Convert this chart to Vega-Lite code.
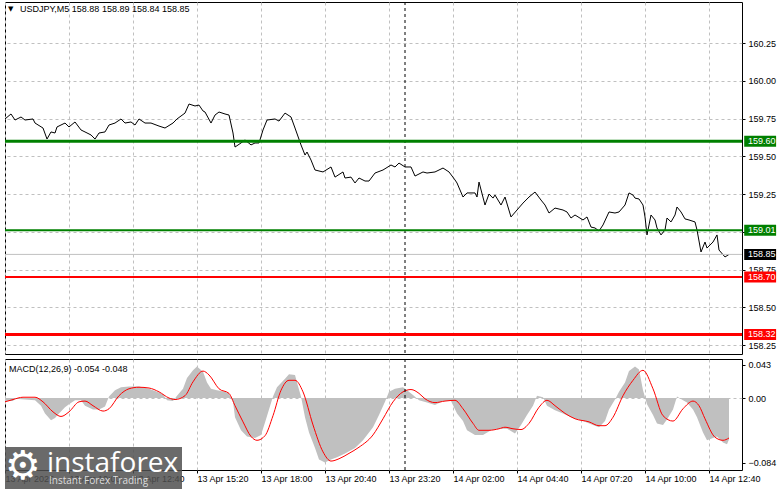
{
  "$schema": "https://vega.github.io/schema/vega-lite/v6.json",
  "padding": {"left": 2, "top": 1, "right": 0, "bottom": 0},
  "background": "#ffffff",
  "spacing": 3,
  "config": {
    "view": {"stroke": "#000000", "strokeWidth": 1},
    "font": "Liberation Sans",
    "axis": {
      "labelFont": "Liberation Sans",
      "labelFontSize": 9,
      "labelColor": "#000000",
      "tickColor": "#000000",
      "gridColor": "#c0c0c0",
      "gridDash": [3, 3],
      "gridWidth": 1,
      "domain": false,
      "title": null,
      "zindex": 0
    }
  },
  "datasets": {
    "price": [
      {"time": "2025-04-13T07:20", "price": 159.747},
      {"time": "2025-04-13T07:35", "price": 159.780},
      {"time": "2025-04-13T07:45", "price": 159.740},
      {"time": "2025-04-13T08:00", "price": 159.760},
      {"time": "2025-04-13T08:10", "price": 159.740},
      {"time": "2025-04-13T08:30", "price": 159.747},
      {"time": "2025-04-13T08:35", "price": 159.720},
      {"time": "2025-04-13T08:55", "price": 159.687},
      {"time": "2025-04-13T09:05", "price": 159.614},
      {"time": "2025-04-13T09:15", "price": 159.661},
      {"time": "2025-04-13T09:25", "price": 159.654},
      {"time": "2025-04-13T09:30", "price": 159.694},
      {"time": "2025-04-13T09:50", "price": 159.720},
      {"time": "2025-04-13T10:00", "price": 159.694},
      {"time": "2025-04-13T10:15", "price": 159.727},
      {"time": "2025-04-13T10:30", "price": 159.674},
      {"time": "2025-04-13T10:40", "price": 159.661},
      {"time": "2025-04-13T10:55", "price": 159.641},
      {"time": "2025-04-13T11:05", "price": 159.614},
      {"time": "2025-04-13T11:15", "price": 159.654},
      {"time": "2025-04-13T11:30", "price": 159.661},
      {"time": "2025-04-13T11:40", "price": 159.707},
      {"time": "2025-04-13T11:55", "price": 159.720},
      {"time": "2025-04-13T12:10", "price": 159.747},
      {"time": "2025-04-13T12:20", "price": 159.720},
      {"time": "2025-04-13T12:35", "price": 159.727},
      {"time": "2025-04-13T12:45", "price": 159.707},
      {"time": "2025-04-13T12:55", "price": 159.747},
      {"time": "2025-04-13T13:10", "price": 159.720},
      {"time": "2025-04-13T13:25", "price": 159.720},
      {"time": "2025-04-13T13:45", "price": 159.700},
      {"time": "2025-04-13T14:00", "price": 159.687},
      {"time": "2025-04-13T14:20", "price": 159.720},
      {"time": "2025-04-13T14:30", "price": 159.747},
      {"time": "2025-04-13T14:50", "price": 159.786},
      {"time": "2025-04-13T15:00", "price": 159.846},
      {"time": "2025-04-13T15:15", "price": 159.833},
      {"time": "2025-04-13T15:25", "price": 159.839},
      {"time": "2025-04-13T15:35", "price": 159.800},
      {"time": "2025-04-13T15:40", "price": 159.793},
      {"time": "2025-04-13T15:55", "price": 159.720},
      {"time": "2025-04-13T16:05", "price": 159.773},
      {"time": "2025-04-13T16:15", "price": 159.793},
      {"time": "2025-04-13T16:30", "price": 159.780},
      {"time": "2025-04-13T16:40", "price": 159.773},
      {"time": "2025-04-13T16:50", "price": 159.654},
      {"time": "2025-04-13T16:55", "price": 159.561},
      {"time": "2025-04-13T17:10", "price": 159.588},
      {"time": "2025-04-13T17:20", "price": 159.608},
      {"time": "2025-04-13T17:35", "price": 159.575},
      {"time": "2025-04-13T17:45", "price": 159.588},
      {"time": "2025-04-13T17:55", "price": 159.588},
      {"time": "2025-04-13T18:05", "price": 159.674},
      {"time": "2025-04-13T18:15", "price": 159.740},
      {"time": "2025-04-13T18:35", "price": 159.747},
      {"time": "2025-04-13T18:45", "price": 159.733},
      {"time": "2025-04-13T19:00", "price": 159.786},
      {"time": "2025-04-13T19:15", "price": 159.760},
      {"time": "2025-04-13T19:25", "price": 159.687},
      {"time": "2025-04-13T19:40", "price": 159.575},
      {"time": "2025-04-13T19:50", "price": 159.508},
      {"time": "2025-04-13T19:55", "price": 159.528},
      {"time": "2025-04-13T20:05", "price": 159.475},
      {"time": "2025-04-13T20:15", "price": 159.409},
      {"time": "2025-04-13T20:35", "price": 159.396},
      {"time": "2025-04-13T20:55", "price": 159.429},
      {"time": "2025-04-13T21:05", "price": 159.362},
      {"time": "2025-04-13T21:25", "price": 159.396},
      {"time": "2025-04-13T21:30", "price": 159.356},
      {"time": "2025-04-13T21:45", "price": 159.362},
      {"time": "2025-04-13T21:55", "price": 159.323},
      {"time": "2025-04-13T22:05", "price": 159.356},
      {"time": "2025-04-13T22:20", "price": 159.336},
      {"time": "2025-04-13T22:30", "price": 159.336},
      {"time": "2025-04-13T22:45", "price": 159.389},
      {"time": "2025-04-13T23:05", "price": 159.409},
      {"time": "2025-04-13T23:25", "price": 159.442},
      {"time": "2025-04-13T23:35", "price": 159.429},
      {"time": "2025-04-13T23:45", "price": 159.455},
      {"time": "2025-04-14T00:00", "price": 159.429},
      {"time": "2025-04-14T00:15", "price": 159.429},
      {"time": "2025-04-14T00:25", "price": 159.369},
      {"time": "2025-04-14T00:45", "price": 159.396},
      {"time": "2025-04-14T00:55", "price": 159.389},
      {"time": "2025-04-14T01:15", "price": 159.396},
      {"time": "2025-04-14T01:35", "price": 159.422},
      {"time": "2025-04-14T01:50", "price": 159.396},
      {"time": "2025-04-14T02:05", "price": 159.343},
      {"time": "2025-04-14T02:10", "price": 159.323},
      {"time": "2025-04-14T02:25", "price": 159.230},
      {"time": "2025-04-14T02:35", "price": 159.257},
      {"time": "2025-04-14T02:55", "price": 159.257},
      {"time": "2025-04-14T03:00", "price": 159.230},
      {"time": "2025-04-14T03:05", "price": 159.329},
      {"time": "2025-04-14T03:20", "price": 159.177},
      {"time": "2025-04-14T03:30", "price": 159.250},
      {"time": "2025-04-14T03:40", "price": 159.223},
      {"time": "2025-04-14T03:45", "price": 159.243},
      {"time": "2025-04-14T04:00", "price": 159.177},
      {"time": "2025-04-14T04:10", "price": 159.230},
      {"time": "2025-04-14T04:25", "price": 159.098},
      {"time": "2025-04-14T04:40", "price": 159.144},
      {"time": "2025-04-14T04:55", "price": 159.190},
      {"time": "2025-04-14T05:10", "price": 159.230},
      {"time": "2025-04-14T05:25", "price": 159.263},
      {"time": "2025-04-14T05:40", "price": 159.210},
      {"time": "2025-04-14T05:50", "price": 159.177},
      {"time": "2025-04-14T06:00", "price": 159.124},
      {"time": "2025-04-14T06:15", "price": 159.157},
      {"time": "2025-04-14T06:35", "price": 159.144},
      {"time": "2025-04-14T06:45", "price": 159.131},
      {"time": "2025-04-14T06:55", "price": 159.091},
      {"time": "2025-04-14T07:05", "price": 159.111},
      {"time": "2025-04-14T07:25", "price": 159.078},
      {"time": "2025-04-14T07:35", "price": 159.098},
      {"time": "2025-04-14T07:45", "price": 159.031},
      {"time": "2025-04-14T07:55", "price": 159.025},
      {"time": "2025-04-14T08:05", "price": 159.005},
      {"time": "2025-04-14T08:15", "price": 159.045},
      {"time": "2025-04-14T08:30", "price": 159.131},
      {"time": "2025-04-14T08:45", "price": 159.124},
      {"time": "2025-04-14T08:55", "price": 159.131},
      {"time": "2025-04-14T09:10", "price": 159.177},
      {"time": "2025-04-14T09:20", "price": 159.257},
      {"time": "2025-04-14T09:30", "price": 159.243},
      {"time": "2025-04-14T09:35", "price": 159.223},
      {"time": "2025-04-14T09:45", "price": 159.217},
      {"time": "2025-04-14T09:55", "price": 159.177},
      {"time": "2025-04-14T10:00", "price": 159.098},
      {"time": "2025-04-14T10:05", "price": 158.979},
      {"time": "2025-04-14T10:15", "price": 159.111},
      {"time": "2025-04-14T10:25", "price": 159.078},
      {"time": "2025-04-14T10:30", "price": 159.025},
      {"time": "2025-04-14T10:40", "price": 158.979},
      {"time": "2025-04-14T10:50", "price": 159.012},
      {"time": "2025-04-14T10:55", "price": 159.091},
      {"time": "2025-04-14T11:05", "price": 159.065},
      {"time": "2025-04-14T11:15", "price": 159.111},
      {"time": "2025-04-14T11:20", "price": 159.164},
      {"time": "2025-04-14T11:30", "price": 159.131},
      {"time": "2025-04-14T11:40", "price": 159.085},
      {"time": "2025-04-14T11:50", "price": 159.078},
      {"time": "2025-04-14T12:05", "price": 159.065},
      {"time": "2025-04-14T12:10", "price": 159.012},
      {"time": "2025-04-14T12:20", "price": 158.866},
      {"time": "2025-04-14T12:30", "price": 158.932},
      {"time": "2025-04-14T12:35", "price": 158.892},
      {"time": "2025-04-14T12:50", "price": 158.932},
      {"time": "2025-04-14T13:00", "price": 158.979},
      {"time": "2025-04-14T13:05", "price": 158.879},
      {"time": "2025-04-14T13:20", "price": 158.833},
      {"time": "2025-04-14T13:30", "price": 158.850}
    ],
    "hist": [
      {"time": "2025-04-13T07:20", "macd": -0.004},
      {"time": "2025-04-13T07:40", "macd": -0.004},
      {"time": "2025-04-13T07:45", "macd": -0.001},
      {"time": "2025-04-13T08:10", "macd": -0.002},
      {"time": "2025-04-13T08:35", "macd": -0.003},
      {"time": "2025-04-13T08:50", "macd": -0.010},
      {"time": "2025-04-13T09:00", "macd": -0.020},
      {"time": "2025-04-13T09:15", "macd": -0.029},
      {"time": "2025-04-13T09:25", "macd": -0.026},
      {"time": "2025-04-13T09:35", "macd": -0.020},
      {"time": "2025-04-13T09:50", "macd": -0.012},
      {"time": "2025-04-13T10:00", "macd": -0.008},
      {"time": "2025-04-13T10:15", "macd": -0.003},
      {"time": "2025-04-13T10:30", "macd": -0.003},
      {"time": "2025-04-13T10:40", "macd": -0.010},
      {"time": "2025-04-13T11:00", "macd": -0.015},
      {"time": "2025-04-13T11:15", "macd": -0.015},
      {"time": "2025-04-13T11:30", "macd": -0.011},
      {"time": "2025-04-13T11:40", "macd": 0.002},
      {"time": "2025-04-13T11:55", "macd": 0.010},
      {"time": "2025-04-13T12:10", "macd": 0.014},
      {"time": "2025-04-13T12:30", "macd": 0.015},
      {"time": "2025-04-13T12:55", "macd": 0.015},
      {"time": "2025-04-13T13:20", "macd": 0.012},
      {"time": "2025-04-13T13:40", "macd": 0.008},
      {"time": "2025-04-13T13:55", "macd": 0.005},
      {"time": "2025-04-13T14:05", "macd": -0.003},
      {"time": "2025-04-13T14:20", "macd": -0.004},
      {"time": "2025-04-13T14:30", "macd": 0.003},
      {"time": "2025-04-13T14:45", "macd": 0.012},
      {"time": "2025-04-13T14:55", "macd": 0.026},
      {"time": "2025-04-13T15:10", "macd": 0.036},
      {"time": "2025-04-13T15:20", "macd": 0.041},
      {"time": "2025-04-13T15:35", "macd": 0.034},
      {"time": "2025-04-13T15:45", "macd": 0.020},
      {"time": "2025-04-13T15:55", "macd": 0.012},
      {"time": "2025-04-13T16:10", "macd": 0.010},
      {"time": "2025-04-13T16:30", "macd": 0.008},
      {"time": "2025-04-13T16:40", "macd": 0.006},
      {"time": "2025-04-13T16:50", "macd": -0.005},
      {"time": "2025-04-13T16:55", "macd": -0.025},
      {"time": "2025-04-13T17:10", "macd": -0.042},
      {"time": "2025-04-13T17:25", "macd": -0.050},
      {"time": "2025-04-13T17:45", "macd": -0.052},
      {"time": "2025-04-13T18:00", "macd": -0.048},
      {"time": "2025-04-13T18:10", "macd": -0.032},
      {"time": "2025-04-13T18:20", "macd": -0.015},
      {"time": "2025-04-13T18:30", "macd": 0.002},
      {"time": "2025-04-13T18:40", "macd": 0.014},
      {"time": "2025-04-13T19:00", "macd": 0.025},
      {"time": "2025-04-13T19:10", "macd": 0.031},
      {"time": "2025-04-13T19:25", "macd": 0.030},
      {"time": "2025-04-13T19:30", "macd": 0.020},
      {"time": "2025-04-13T19:40", "macd": 0.002},
      {"time": "2025-04-13T19:50", "macd": -0.025},
      {"time": "2025-04-13T20:00", "macd": -0.045},
      {"time": "2025-04-13T20:15", "macd": -0.065},
      {"time": "2025-04-13T20:25", "macd": -0.080},
      {"time": "2025-04-13T20:40", "macd": -0.084},
      {"time": "2025-04-13T20:55", "macd": -0.080},
      {"time": "2025-04-13T21:10", "macd": -0.077},
      {"time": "2025-04-13T21:30", "macd": -0.072},
      {"time": "2025-04-13T21:55", "macd": -0.065},
      {"time": "2025-04-13T22:15", "macd": -0.055},
      {"time": "2025-04-13T22:30", "macd": -0.045},
      {"time": "2025-04-13T22:40", "macd": -0.038},
      {"time": "2025-04-13T22:55", "macd": -0.022},
      {"time": "2025-04-13T23:10", "macd": -0.005},
      {"time": "2025-04-13T23:20", "macd": 0.008},
      {"time": "2025-04-13T23:35", "macd": 0.012},
      {"time": "2025-04-13T23:55", "macd": 0.014},
      {"time": "2025-04-14T00:05", "macd": 0.010},
      {"time": "2025-04-14T00:20", "macd": 0.004},
      {"time": "2025-04-14T00:35", "macd": -0.003},
      {"time": "2025-04-14T00:55", "macd": -0.006},
      {"time": "2025-04-14T01:15", "macd": -0.009},
      {"time": "2025-04-14T01:35", "macd": -0.004},
      {"time": "2025-04-14T01:55", "macd": -0.004},
      {"time": "2025-04-14T02:10", "macd": -0.020},
      {"time": "2025-04-14T02:25", "macd": -0.030},
      {"time": "2025-04-14T02:35", "macd": -0.042},
      {"time": "2025-04-14T02:55", "macd": -0.048},
      {"time": "2025-04-14T03:15", "macd": -0.048},
      {"time": "2025-04-14T03:35", "macd": -0.042},
      {"time": "2025-04-14T03:55", "macd": -0.040},
      {"time": "2025-04-14T04:15", "macd": -0.040},
      {"time": "2025-04-14T04:35", "macd": -0.046},
      {"time": "2025-04-14T04:50", "macd": -0.035},
      {"time": "2025-04-14T05:05", "macd": -0.022},
      {"time": "2025-04-14T05:20", "macd": -0.010},
      {"time": "2025-04-14T05:30", "macd": 0.003},
      {"time": "2025-04-14T05:45", "macd": 0.001},
      {"time": "2025-04-14T05:55", "macd": -0.010},
      {"time": "2025-04-14T06:15", "macd": -0.016},
      {"time": "2025-04-14T06:35", "macd": -0.020},
      {"time": "2025-04-14T07:00", "macd": -0.026},
      {"time": "2025-04-14T07:25", "macd": -0.030},
      {"time": "2025-04-14T07:50", "macd": -0.035},
      {"time": "2025-04-14T08:05", "macd": -0.038},
      {"time": "2025-04-14T08:20", "macd": -0.030},
      {"time": "2025-04-14T08:30", "macd": -0.015},
      {"time": "2025-04-14T08:45", "macd": -0.002},
      {"time": "2025-04-14T08:55", "macd": 0.008},
      {"time": "2025-04-14T09:10", "macd": 0.020},
      {"time": "2025-04-14T09:20", "macd": 0.035},
      {"time": "2025-04-14T09:35", "macd": 0.041},
      {"time": "2025-04-14T09:45", "macd": 0.037},
      {"time": "2025-04-14T09:55", "macd": 0.010},
      {"time": "2025-04-14T10:05", "macd": -0.008},
      {"time": "2025-04-14T10:20", "macd": -0.022},
      {"time": "2025-04-14T10:30", "macd": -0.033},
      {"time": "2025-04-14T10:45", "macd": -0.035},
      {"time": "2025-04-14T10:55", "macd": -0.028},
      {"time": "2025-04-14T11:10", "macd": -0.015},
      {"time": "2025-04-14T11:20", "macd": 0.002},
      {"time": "2025-04-14T11:35", "macd": -0.003},
      {"time": "2025-04-14T11:45", "macd": -0.006},
      {"time": "2025-04-14T12:00", "macd": -0.015},
      {"time": "2025-04-14T12:10", "macd": -0.025},
      {"time": "2025-04-14T12:25", "macd": -0.045},
      {"time": "2025-04-14T12:35", "macd": -0.055},
      {"time": "2025-04-14T12:50", "macd": -0.052},
      {"time": "2025-04-14T13:00", "macd": -0.050},
      {"time": "2025-04-14T13:15", "macd": -0.058},
      {"time": "2025-04-14T13:25", "macd": -0.060},
      {"time": "2025-04-14T13:30", "macd": -0.054}
    ],
    "signal": [
      {"time": "2025-04-13T07:20", "signal": -0.005},
      {"time": "2025-04-13T07:40", "signal": -0.002},
      {"time": "2025-04-13T08:05", "signal": 0.001},
      {"time": "2025-04-13T08:35", "signal": 0.001},
      {"time": "2025-04-13T08:55", "signal": -0.005},
      {"time": "2025-04-13T09:20", "signal": -0.018},
      {"time": "2025-04-13T09:40", "signal": -0.024},
      {"time": "2025-04-13T10:00", "signal": -0.018},
      {"time": "2025-04-13T10:25", "signal": -0.005},
      {"time": "2025-04-13T10:40", "signal": -0.004},
      {"time": "2025-04-13T11:00", "signal": -0.010},
      {"time": "2025-04-13T11:25", "signal": -0.017},
      {"time": "2025-04-13T11:40", "signal": -0.014},
      {"time": "2025-04-13T12:05", "signal": 0.003},
      {"time": "2025-04-13T12:30", "signal": 0.012},
      {"time": "2025-04-13T12:55", "signal": 0.014},
      {"time": "2025-04-13T13:20", "signal": 0.013},
      {"time": "2025-04-13T13:45", "signal": 0.008},
      {"time": "2025-04-13T14:10", "signal": 0.000},
      {"time": "2025-04-13T14:25", "signal": -0.002},
      {"time": "2025-04-13T14:50", "signal": 0.003},
      {"time": "2025-04-13T15:10", "signal": 0.021},
      {"time": "2025-04-13T15:35", "signal": 0.035},
      {"time": "2025-04-13T15:50", "signal": 0.030},
      {"time": "2025-04-13T16:15", "signal": 0.012},
      {"time": "2025-04-13T16:40", "signal": 0.006},
      {"time": "2025-04-13T16:55", "signal": -0.010},
      {"time": "2025-04-13T17:15", "signal": -0.031},
      {"time": "2025-04-13T17:35", "signal": -0.050},
      {"time": "2025-04-13T17:50", "signal": -0.055},
      {"time": "2025-04-13T18:10", "signal": -0.049},
      {"time": "2025-04-13T18:30", "signal": -0.023},
      {"time": "2025-04-13T18:50", "signal": 0.010},
      {"time": "2025-04-13T19:10", "signal": 0.023},
      {"time": "2025-04-13T19:25", "signal": 0.023},
      {"time": "2025-04-13T19:45", "signal": 0.008},
      {"time": "2025-04-13T20:10", "signal": -0.035},
      {"time": "2025-04-13T20:35", "signal": -0.070},
      {"time": "2025-04-13T20:55", "signal": -0.082},
      {"time": "2025-04-13T21:15", "signal": -0.079},
      {"time": "2025-04-13T21:40", "signal": -0.072},
      {"time": "2025-04-13T22:05", "signal": -0.064},
      {"time": "2025-04-13T22:40", "signal": -0.048},
      {"time": "2025-04-13T23:05", "signal": -0.027},
      {"time": "2025-04-13T23:30", "signal": -0.005},
      {"time": "2025-04-13T23:55", "signal": 0.008},
      {"time": "2025-04-14T00:15", "signal": 0.011},
      {"time": "2025-04-14T00:35", "signal": 0.006},
      {"time": "2025-04-14T00:50", "signal": -0.001},
      {"time": "2025-04-14T01:15", "signal": -0.006},
      {"time": "2025-04-14T01:40", "signal": -0.004},
      {"time": "2025-04-14T02:05", "signal": -0.003},
      {"time": "2025-04-14T02:25", "signal": -0.014},
      {"time": "2025-04-14T02:50", "signal": -0.033},
      {"time": "2025-04-14T03:05", "signal": -0.042},
      {"time": "2025-04-14T03:30", "signal": -0.042},
      {"time": "2025-04-14T03:55", "signal": -0.040},
      {"time": "2025-04-14T04:10", "signal": -0.038},
      {"time": "2025-04-14T04:30", "signal": -0.040},
      {"time": "2025-04-14T04:50", "signal": -0.041},
      {"time": "2025-04-14T05:10", "signal": -0.033},
      {"time": "2025-04-14T05:35", "signal": -0.012},
      {"time": "2025-04-14T05:55", "signal": -0.003},
      {"time": "2025-04-14T06:15", "signal": -0.010},
      {"time": "2025-04-14T06:40", "signal": -0.020},
      {"time": "2025-04-14T07:05", "signal": -0.027},
      {"time": "2025-04-14T07:40", "signal": -0.031},
      {"time": "2025-04-14T08:05", "signal": -0.036},
      {"time": "2025-04-14T08:20", "signal": -0.036},
      {"time": "2025-04-14T08:40", "signal": -0.025},
      {"time": "2025-04-14T09:05", "signal": 0.003},
      {"time": "2025-04-14T09:30", "signal": 0.023},
      {"time": "2025-04-14T09:55", "signal": 0.036},
      {"time": "2025-04-14T10:20", "signal": 0.012},
      {"time": "2025-04-14T10:45", "signal": -0.023},
      {"time": "2025-04-14T11:10", "signal": -0.030},
      {"time": "2025-04-14T11:35", "signal": -0.014},
      {"time": "2025-04-14T12:00", "signal": -0.004},
      {"time": "2025-04-14T12:15", "signal": -0.010},
      {"time": "2025-04-14T12:30", "signal": -0.027},
      {"time": "2025-04-14T12:55", "signal": -0.051},
      {"time": "2025-04-14T13:15", "signal": -0.055},
      {"time": "2025-04-14T13:30", "signal": -0.052}
    ],
    "levels": [
      {"level": 159.60, "side": "buy", "role": "target"},
      {"level": 159.01, "side": "buy", "role": "entry"},
      {"level": 158.85, "side": "current", "role": "price"},
      {"level": 158.70, "side": "sell", "role": "entry"},
      {"level": 158.32, "side": "sell", "role": "target"}
    ],
    "sessions": [{"time": "2025-04-14T00:00"}],
    "header": [{"arrow": "▼", "label": "USDJPY,M5  158.88 158.89 158.84 158.85"}],
    "indicator": [{"label": "MACD(12,26,9) -0.054 -0.048"}],
    "brand": [{"icon": "⚙", "name": "instaforex", "tagline": "Instant Forex Trading"}]
  },
  "vconcat": [
    {
      "width": 737,
      "height": 352,
      "layer": [
        {
          "data": {"name": "price"},
          "mark": {"type": "line", "color": "#000000", "strokeWidth": 1},
          "encoding": {
            "x": {
              "field": "time", "type": "temporal",
              "scale": {"domain": [{"year": 2025, "month": 4, "date": 13, "hours": 7, "minutes": 20}, {"year": 2025, "month": 4, "date": 14, "hours": 14, "minutes": 2, "seconds": 30}], "nice": false},
              "axis": {
                "grid": true, "labels": false, "ticks": false,
                "values": [
                  {"year": 2025, "month": 4, "date": 13, "hours": 7, "minutes": 20},
                  {"year": 2025, "month": 4, "date": 13, "hours": 8, "minutes": 40},
                  {"year": 2025, "month": 4, "date": 13, "hours": 10, "minutes": 0},
                  {"year": 2025, "month": 4, "date": 13, "hours": 11, "minutes": 20},
                  {"year": 2025, "month": 4, "date": 13, "hours": 12, "minutes": 40},
                  {"year": 2025, "month": 4, "date": 13, "hours": 14, "minutes": 0},
                  {"year": 2025, "month": 4, "date": 13, "hours": 15, "minutes": 20},
                  {"year": 2025, "month": 4, "date": 13, "hours": 16, "minutes": 40},
                  {"year": 2025, "month": 4, "date": 13, "hours": 18, "minutes": 0},
                  {"year": 2025, "month": 4, "date": 13, "hours": 19, "minutes": 20},
                  {"year": 2025, "month": 4, "date": 13, "hours": 20, "minutes": 40},
                  {"year": 2025, "month": 4, "date": 13, "hours": 22, "minutes": 0},
                  {"year": 2025, "month": 4, "date": 13, "hours": 23, "minutes": 20},
                  {"year": 2025, "month": 4, "date": 14, "hours": 0, "minutes": 40},
                  {"year": 2025, "month": 4, "date": 14, "hours": 2, "minutes": 0},
                  {"year": 2025, "month": 4, "date": 14, "hours": 3, "minutes": 20},
                  {"year": 2025, "month": 4, "date": 14, "hours": 4, "minutes": 40},
                  {"year": 2025, "month": 4, "date": 14, "hours": 6, "minutes": 0},
                  {"year": 2025, "month": 4, "date": 14, "hours": 7, "minutes": 20},
                  {"year": 2025, "month": 4, "date": 14, "hours": 8, "minutes": 40},
                  {"year": 2025, "month": 4, "date": 14, "hours": 10, "minutes": 0},
                  {"year": 2025, "month": 4, "date": 14, "hours": 11, "minutes": 20},
                  {"year": 2025, "month": 4, "date": 14, "hours": 12, "minutes": 40}
                ]
              }
            },
            "y": {
              "field": "price", "type": "quantitative",
              "scale": {"domain": [158.1904, 160.5216], "nice": false, "zero": false},
              "axis": {
                "orient": "right", "grid": true, "format": ".2f",
                "values": [158.25, 158.5, 158.75, 159.0, 159.25, 159.5, 159.75, 160.0, 160.25],
                "tickSize": 3, "labelPadding": 3
              }
            }
          }
        },
        {
          "data": {"name": "levels"},
          "transform": [{"filter": "datum.side == 'current'"}],
          "mark": {"type": "rule", "color": "#c0c0c0", "strokeWidth": 1},
          "encoding": {"y": {"field": "level", "type": "quantitative"}}
        },
        {
          "data": {"name": "sessions"},
          "mark": {"type": "rule", "color": "#000000", "strokeWidth": 1, "strokeDash": [3, 3]},
          "encoding": {"x": {"field": "time", "type": "temporal"}}
        },
        {
          "data": {"name": "levels"},
          "transform": [{"filter": "datum.side != 'current'"}],
          "mark": {"type": "rule"},
          "encoding": {
            "y": {"field": "level", "type": "quantitative"},
            "color": {"field": "side", "type": "nominal", "scale": {"domain": ["buy", "sell", "current"], "range": ["#008000", "#ff0000", "#000000"]}, "legend": null},
            "strokeWidth": {"field": "role", "type": "nominal", "scale": {"domain": ["entry", "target"], "range": [2, 3]}, "legend": null}
          }
        },
        {
          "data": {"name": "levels"},
          "mark": {"type": "point", "shape": "M0.4,-1H6.2V1H0.4Z", "filled": true, "opacity": 1, "size": 121, "strokeWidth": 0},
          "encoding": {
            "x": {"datum": {"year": 2025, "month": 4, "date": 14, "hours": 14, "minutes": 2, "seconds": 30}, "type": "temporal"},
            "y": {"field": "level", "type": "quantitative"},
            "color": {"field": "side", "type": "nominal", "scale": {"domain": ["buy", "sell", "current"], "range": ["#008000", "#ff0000", "#000000"]}, "legend": null}
          }
        },
        {
          "data": {"name": "levels"},
          "mark": {"type": "text", "align": "left", "baseline": "middle", "dx": 6, "fill": "#ffffff", "fontSize": 9, "font": "Liberation Sans"},
          "encoding": {
            "x": {"datum": {"year": 2025, "month": 4, "date": 14, "hours": 14, "minutes": 2, "seconds": 30}, "type": "temporal"},
            "y": {"field": "level", "type": "quantitative"},
            "text": {"field": "level", "type": "quantitative", "format": ".2f"}
          }
        },
        {
          "data": {"name": "header"},
          "mark": {"type": "text", "align": "left", "baseline": "middle", "dx": 3, "fill": "#000000", "fontSize": 7, "font": "DejaVu Sans"},
          "encoding": {
            "x": {"datum": {"year": 2025, "month": 4, "date": 13, "hours": 7, "minutes": 20}, "type": "temporal"},
            "y": {"datum": 160.475, "type": "quantitative"},
            "text": {"field": "arrow", "type": "nominal"}
          }
        },
        {
          "data": {"name": "header"},
          "mark": {"type": "text", "align": "left", "baseline": "middle", "dx": 15, "fill": "#000000", "fontSize": 9, "font": "Liberation Sans"},
          "encoding": {
            "x": {"datum": {"year": 2025, "month": 4, "date": 13, "hours": 7, "minutes": 20}, "type": "temporal"},
            "y": {"datum": 160.475, "type": "quantitative"},
            "text": {"field": "label", "type": "nominal"}
          }
        }
      ]
    },
    {
      "width": 737,
      "height": 111,
      "layer": [
        {
          "data": {"name": "hist"},
          "mark": {"type": "area", "color": "#c0c0c0", "interpolate": "linear"},
          "encoding": {
            "x": {
              "field": "time", "type": "temporal",
              "scale": {"domain": [{"year": 2025, "month": 4, "date": 13, "hours": 7, "minutes": 20}, {"year": 2025, "month": 4, "date": 14, "hours": 14, "minutes": 2, "seconds": 30}], "nice": false},
              "axis": {
                "grid": true,
                "tickSize": 3,
                "labelPadding": 1,
                "labelAlign": "left",
                "labelBaseline": "top",
                "labelFlush": false,
                "labelOverlap": false,
                "labelBound": false,
                "tickOpacity": {"condition": {"test": "(hours(datum.value)*60 + minutes(datum.value)) % 160 == 120", "value": 1}, "value": 0},
                "labelExpr": "(hours(datum.value)*60 + minutes(datum.value)) % 160 == 120 ? (datum.index == 0 ? '13 Apr 2025' : timeFormat(datum.value, '%d %b %H:%M')) : ''",
                "values": [
                  {"year": 2025, "month": 4, "date": 13, "hours": 7, "minutes": 20},
                  {"year": 2025, "month": 4, "date": 13, "hours": 8, "minutes": 40},
                  {"year": 2025, "month": 4, "date": 13, "hours": 10, "minutes": 0},
                  {"year": 2025, "month": 4, "date": 13, "hours": 11, "minutes": 20},
                  {"year": 2025, "month": 4, "date": 13, "hours": 12, "minutes": 40},
                  {"year": 2025, "month": 4, "date": 13, "hours": 14, "minutes": 0},
                  {"year": 2025, "month": 4, "date": 13, "hours": 15, "minutes": 20},
                  {"year": 2025, "month": 4, "date": 13, "hours": 16, "minutes": 40},
                  {"year": 2025, "month": 4, "date": 13, "hours": 18, "minutes": 0},
                  {"year": 2025, "month": 4, "date": 13, "hours": 19, "minutes": 20},
                  {"year": 2025, "month": 4, "date": 13, "hours": 20, "minutes": 40},
                  {"year": 2025, "month": 4, "date": 13, "hours": 22, "minutes": 0},
                  {"year": 2025, "month": 4, "date": 13, "hours": 23, "minutes": 20},
                  {"year": 2025, "month": 4, "date": 14, "hours": 0, "minutes": 40},
                  {"year": 2025, "month": 4, "date": 14, "hours": 2, "minutes": 0},
                  {"year": 2025, "month": 4, "date": 14, "hours": 3, "minutes": 20},
                  {"year": 2025, "month": 4, "date": 14, "hours": 4, "minutes": 40},
                  {"year": 2025, "month": 4, "date": 14, "hours": 6, "minutes": 0},
                  {"year": 2025, "month": 4, "date": 14, "hours": 7, "minutes": 20},
                  {"year": 2025, "month": 4, "date": 14, "hours": 8, "minutes": 40},
                  {"year": 2025, "month": 4, "date": 14, "hours": 10, "minutes": 0},
                  {"year": 2025, "month": 4, "date": 14, "hours": 11, "minutes": 20},
                  {"year": 2025, "month": 4, "date": 14, "hours": 12, "minutes": 40}
                ]
              }
            },
            "y": {
              "field": "macd", "type": "quantitative",
              "scale": {"domain": [-0.0936, 0.0507], "nice": false, "zero": false},
              "axis": {
                "orient": "right",
                "values": [0.043, 0, -0.084],
                "labelExpr": "datum.value == 0 ? '0.00' : format(datum.value, '.3f')",
                "grid": true,
                "gridOpacity": {"condition": {"test": "datum.value == 0", "value": 1}, "value": 0},
                "tickSize": 3,
                "labelPadding": 3
              }
            }
          }
        },
        {
          "data": {"name": "signal"},
          "mark": {"type": "line", "color": "#ff0000", "strokeWidth": 1, "interpolate": "monotone"},
          "encoding": {
            "x": {"field": "time", "type": "temporal"},
            "y": {"field": "signal", "type": "quantitative"}
          }
        },
        {
          "data": {"name": "sessions"},
          "mark": {"type": "rule", "color": "#000000", "strokeWidth": 1, "strokeDash": [3, 3]},
          "encoding": {"x": {"field": "time", "type": "temporal"}}
        },
        {
          "data": {"name": "indicator"},
          "mark": {"type": "text", "align": "left", "baseline": "middle", "dx": 4, "fill": "#000000", "fontSize": 9, "font": "Liberation Sans"},
          "encoding": {
            "x": {"datum": {"year": 2025, "month": 4, "date": 13, "hours": 7, "minutes": 20}, "type": "temporal"},
            "y": {"datum": 0.0377, "type": "quantitative"},
            "text": {"field": "label", "type": "nominal"}
          }
        },
        {
          "data": {"name": "brand"},
          "mark": {"type": "rect", "color": "#505050", "opacity": 0.85},
          "encoding": {
            "x": {"datum": {"year": 2025, "month": 4, "date": 13, "hours": 7, "minutes": 20}, "type": "temporal"},
            "x2": {"datum": {"year": 2025, "month": 4, "date": 13, "hours": 14, "minutes": 42, "seconds": 30}},
            "y": {"datum": -0.0637, "type": "quantitative"},
            "y2": {"datum": -0.125}
          }
        },
        {
          "data": {"name": "brand"},
          "mark": {"type": "text", "align": "center", "baseline": "middle", "fill": "#ffffff", "fontSize": 40, "font": "DejaVu Sans"},
          "encoding": {
            "x": {"datum": {"year": 2025, "month": 4, "date": 13, "hours": 8, "minutes": 5}, "type": "temporal"},
            "y": {"datum": -0.0897, "type": "quantitative"},
            "text": {"field": "icon", "type": "nominal"}
          }
        },
        {
          "data": {"name": "brand"},
          "mark": {"type": "text", "align": "left", "baseline": "middle", "fill": "#ffffff", "fontSize": 28, "font": "Open Sans"},
          "encoding": {
            "x": {"datum": {"year": 2025, "month": 4, "date": 13, "hours": 9, "minutes": 5}, "type": "temporal"},
            "y": {"datum": -0.0858, "type": "quantitative"},
            "text": {"field": "name", "type": "nominal"}
          }
        },
        {
          "data": {"name": "brand"},
          "mark": {"type": "text", "align": "left", "baseline": "middle", "fill": "#dddddd", "fontSize": 10, "font": "Open Sans"},
          "encoding": {
            "x": {"datum": {"year": 2025, "month": 4, "date": 13, "hours": 9, "minutes": 10}, "type": "temporal"},
            "y": {"datum": -0.108, "type": "quantitative"},
            "text": {"field": "tagline", "type": "nominal"}
          }
        }
      ]
    }
  ]
}
